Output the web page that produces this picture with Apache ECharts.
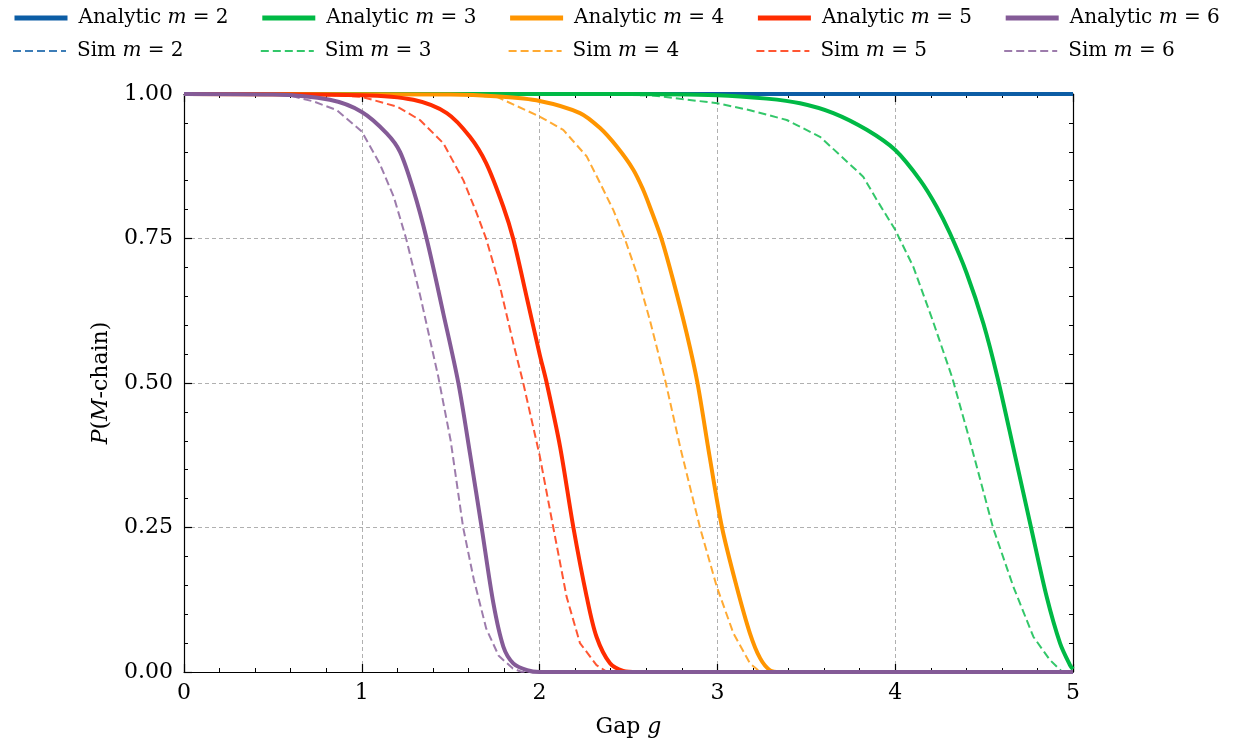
<!DOCTYPE html>
<html>
<head>
<meta charset="utf-8">
<script src="https://cdn.jsdelivr.net/npm/echarts@6/dist/echarts.min.js"></script>
<style>html,body{margin:0;padding:0;background:#fff}#c{width:1234px;height:746px}</style>
</head>
<body>
<div id="c"></div>
<script>
// ---- data (gap g, probability) ----
const analytic2 = [[0,1],[5,1]];
const sim2 = [[0,1],[5,1]];
const analytic3 = [[0,1],[2.5,1.0],[3.0,0.998],[3.277,0.992],[3.465,0.984],[3.652,0.967],[3.84,0.938],[4.0,0.903],[4.14,0.851],[4.233,0.805],[4.308,0.759],[4.402,0.69],[4.496,0.603],[4.575,0.51],[4.67,0.38],[4.764,0.25],[4.852,0.13],[4.927,0.05],[4.983,0.012],[5,0.005]];
const sim3 = [[0,1],[2.62,0.998],[3.0,0.984],[3.183,0.972],[3.39,0.955],[3.577,0.926],[3.69,0.894],[3.82,0.857],[3.896,0.817],[4.0,0.765],[4.102,0.701],[4.21,0.609],[4.32,0.51],[4.42,0.40],[4.55,0.25],[4.664,0.148],[4.777,0.061],[4.87,0.021],[4.94,0],[5,0]];
const analytic4 = [[0,1],[1.5,0.999],[1.75,0.996],[2.0,0.988],[2.227,0.967],[2.34,0.941],[2.434,0.909],[2.527,0.869],[2.583,0.834],[2.62,0.805],[2.686,0.749],[2.751,0.678],[2.827,0.586],[2.888,0.5],[2.955,0.375],[3.026,0.25],[3.108,0.148],[3.183,0.067],[3.24,0.024],[3.296,0.003],[3.35,0],[5,0]];
const sim4 = [[0,1],[1.48,1.0],[1.76,0.995],[2.0,0.961],[2.133,0.938],[2.265,0.892],[2.34,0.846],[2.415,0.799],[2.48,0.749],[2.546,0.69],[2.62,0.609],[2.71,0.5],[2.79,0.39],[2.902,0.25],[2.996,0.148],[3.09,0.067],[3.183,0.015],[3.24,0],[5,0]];
const analytic5 = [[0,1],[1.0,0.998],[1.29,0.99],[1.478,0.967],[1.608,0.926],[1.70,0.88],[1.796,0.805],[1.852,0.749],[1.93,0.645],[2.0,0.55],[2.04,0.5],[2.115,0.39],[2.19,0.25],[2.265,0.13],[2.32,0.061],[2.396,0.015],[2.47,0.002],[2.55,0],[5,0]];
const sim5 = [[0,1],[0.8,0.999],[1.0,0.995],[1.2,0.978],[1.327,0.955],[1.458,0.915],[1.571,0.851],[1.646,0.794],[1.70,0.749],[1.777,0.667],[1.852,0.569],[1.908,0.5],[2.0,0.375],[2.077,0.25],[2.152,0.13],[2.227,0.05],[2.32,0.012],[2.38,0],[5,0]];
const analytic6 = [[0,1],[0.5,0.999],[0.82,0.99],[1.0,0.969],[1.14,0.932],[1.215,0.90],[1.29,0.834],[1.365,0.749],[1.458,0.621],[1.543,0.5],[1.61,0.375],[1.674,0.25],[1.74,0.119],[1.796,0.044],[1.852,0.015],[1.93,0.003],[2.0,0],[5,0]];
const sim6 = [[0,1],[0.5,0.999],[0.6,0.997],[0.73,0.987],[0.86,0.972],[1.0,0.935],[1.1,0.88],[1.18,0.822],[1.25,0.749],[1.33,0.649],[1.43,0.511],[1.5,0.40],[1.57,0.25],[1.63,0.16],[1.70,0.075],[1.77,0.028],[1.85,0.006],[1.9,0],[5,0]];

const mValues = [2, 3, 4, 5, 6];
const analyticData = [analytic2, analytic3, analytic4, analytic5, analytic6];
const simData = [sim2, sim3, sim4, sim5, sim6];
const colors = ['#0C5DA5', '#00B945', '#FF9500', '#FF2C00', '#845B97'];
const xTicks = [0, 1, 2, 3, 4, 5];
const yTicks = [0, 0.25, 0.5, 0.75, 1.0];

const FONT = 'DejaVu Serif';
const series = [];
const legends = [];
mValues.forEach((m, i) => {
  const aName = 'Analytic m = ' + m;
  const sName = 'Sim m = ' + m;
  series.push({
    name: aName, type: 'line', data: analyticData[i], showSymbol: false, symbol: 'none',
    smooth: 0.3,
    lineStyle: {color: colors[i], width: 4}, itemStyle: {color: colors[i]},
    z: 2 + i * 2, emphasis: {disabled: true}
  });
  series.push({
    name: sName, type: 'line', data: simData[i], showSymbol: false, symbol: 'none',
    lineStyle: {color: colors[i], width: 2, type: [8, 4], opacity: 0.8}, itemStyle: {color: colors[i], opacity: 0.8},
    z: 3 + i * 2, emphasis: {disabled: true}
  });
  const left = 7 + i * 247.8;
  [[aName, 3, 5], [sName, 36, 2]].forEach(([nm, top, lw]) => {
    legends.push({
      show: true, data: [nm], left: left, top: top, itemWidth: 53, itemHeight: 22,
      selectedMode: false,
      itemStyle: {opacity: 0},
      lineStyle: {width: lw},
      formatter: (name) => {
        const parts = name.split(' m ');
        return '{n|' + parts[0] + ' }{i|m}{n| ' + parts[1] + '}';
      },
      textStyle: {
        padding: [0, 0, 0, 6],
        rich: {
          n: {fontFamily: FONT, fontSize: 20, color: '#000'},
          i: {fontFamily: FONT, fontSize: 20, fontStyle: 'italic', color: '#000'}
        }
      }
    });
  });
});

const tickStyle = {show: true, inside: true, length: 8, lineStyle: {color: '#000', width: 1.2}};
const minorStyle = {show: true, splitNumber: 5, length: 4, lineStyle: {color: '#000', width: 1}};
const gridLine = {show: true, lineStyle: {color: '#b0b0b0', type: [4, 3], width: 1}};
const axisLine = {show: true, onZero: false, lineStyle: {color: '#000', width: 1.2}};

const option = {
  animation: false,
  backgroundColor: '#fff',
  legend: legends,
  grid: {left: 184, right: 161, top: 94, bottom: 74, containLabel: false},
  xAxis: [
    {type: 'value', min: xTicks[0], max: xTicks[xTicks.length - 1], interval: 1, position: 'bottom',
     axisLine: axisLine, axisTick: tickStyle, minorTick: minorStyle, splitLine: gridLine,
     axisLabel: {fontFamily: FONT, fontSize: 22, color: '#000', margin: 10},
     name: '{n|Gap }{i|g}', nameLocation: 'middle', nameGap: 44,
     nameTextStyle: {rich: {n: {fontFamily: FONT, fontSize: 22, color: '#000'}, i: {fontFamily: FONT, fontSize: 22, fontStyle: 'italic', color: '#000'}}}},
    {type: 'value', min: xTicks[0], max: xTicks[xTicks.length - 1], interval: 1, position: 'top',
     axisLine: axisLine, axisTick: tickStyle, minorTick: minorStyle, splitLine: {show: false},
     axisLabel: {show: false}}
  ],
  yAxis: [
    {type: 'value', min: yTicks[0], max: yTicks[yTicks.length - 1], interval: 0.25, position: 'left',
     axisLine: axisLine, axisTick: tickStyle, minorTick: minorStyle, splitLine: gridLine,
     axisLabel: {fontFamily: FONT, fontSize: 22, color: '#000', margin: 11, formatter: v => v.toFixed(2)},
     name: '{i|P}{n|(}{i|M}{n|-chain)}', nameLocation: 'middle', nameGap: 72, nameRotate: 90,
     nameTextStyle: {rich: {n: {fontFamily: FONT, fontSize: 22, color: '#000'}, i: {fontFamily: FONT, fontSize: 22, fontStyle: 'italic', color: '#000'}}}},
    {type: 'value', min: yTicks[0], max: yTicks[yTicks.length - 1], interval: 0.25, position: 'right',
     axisLine: axisLine, axisTick: tickStyle, minorTick: minorStyle, splitLine: {show: false},
     axisLabel: {show: false}}
  ],
  series: series
};
const chart = echarts.init(document.getElementById('c'), null, {renderer: 'canvas'});
chart.setOption(option);
</script>
</body>
</html>
